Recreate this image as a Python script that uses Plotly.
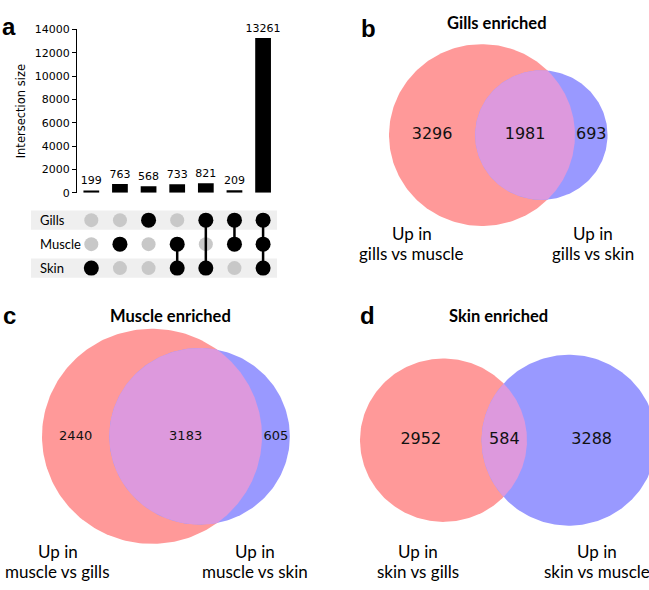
import numpy as np
import plotly.graph_objects as go

W, H = 649, 590

# ---------------- data ----------------
set_names = ["Gills", "Muscle", "Skin"]
upset_sizes = [199, 763, 568, 733, 821, 209, 13261]
upset_members = [
    ["Skin"],
    ["Muscle"],
    ["Gills"],
    ["Muscle", "Skin"],
    ["Gills", "Skin"],
    ["Gills", "Muscle"],
    ["Gills", "Muscle", "Skin"],
]
upset_yticks = [0, 2000, 4000, 6000, 8000, 10000, 12000, 14000]

# Venn counts: (only left set, only right set, both)
gills_counts = [3296, 693, 1981]
muscle_counts = [2440, 605, 3183]
skin_counts = [2952, 3288, 584]

venn_titles = ["Gills enriched", "Muscle enriched", "Skin enriched"]
venn_left_labels = [["Up in", "gills vs muscle"], ["Up in", "muscle vs gills"], ["Up in", "skin vs gills"]]
venn_right_labels = [["Up in", "gills vs skin"], ["Up in", "muscle vs skin"], ["Up in", "skin vs muscle"]]

# ---------------- helpers ----------------
def px(x):
    return x / W


def py(y):
    return 1 - y / H


def lens_area(r1, r2, d):
    if d >= r1 + r2:
        return 0.0
    if d <= abs(r1 - r2):
        return np.pi * min(r1, r2) ** 2
    a1 = r1 ** 2 * np.arccos((d ** 2 + r1 ** 2 - r2 ** 2) / (2 * d * r1))
    a2 = r2 ** 2 * np.arccos((d ** 2 + r2 ** 2 - r1 ** 2) / (2 * d * r2))
    k = 0.5 * np.sqrt((-d + r1 + r2) * (d + r1 - r2) * (d - r1 + r2) * (d + r1 + r2))
    return a1 + a2 - k


def solve_distance(r1, r2, area):
    lo, hi = abs(r1 - r2) + 1e-9, r1 + r2
    for _ in range(200):
        mid = 0.5 * (lo + hi)
        if lens_area(r1, r2, mid) > area:
            lo = mid
        else:
            hi = mid
    return 0.5 * (lo + hi)


fig = go.Figure()

# ---------------- panel a: UpSet ----------------
fig.add_trace(go.Bar(
    x=list(range(len(upset_sizes))), y=upset_sizes,
    marker=dict(color="black", line=dict(width=0)), width=0.55,
    text=[str(v) for v in upset_sizes], textposition="outside", textangle=0,
    constraintext="none",
    textfont=dict(family="DejaVu Sans", size=11, color="black"),
    cliponaxis=False, xaxis="x", yaxis="y", hoverinfo="skip"))

row_of = {"Gills": 2, "Muscle": 1, "Skin": 0}
gx, gy, bx, by, lx, ly = [], [], [], [], [], []
for i, mem in enumerate(upset_members):
    for s in set_names:
        if s in mem:
            bx.append(i); by.append(row_of[s])
        else:
            gx.append(i); gy.append(row_of[s])
    if len(mem) > 1:
        rows = [row_of[s] for s in mem]
        lx += [i, i, None]; ly += [min(rows), max(rows), None]

fig.add_trace(go.Scatter(x=gx, y=gy, mode="markers", xaxis="x2", yaxis="y2",
                         marker=dict(size=14, color="#c8c8c8"), hoverinfo="skip"))
fig.add_trace(go.Scatter(x=lx, y=ly, mode="lines", xaxis="x2", yaxis="y2",
                         line=dict(color="black", width=2.5), hoverinfo="skip"))
fig.add_trace(go.Scatter(x=bx, y=by, mode="markers", xaxis="x2", yaxis="y2",
                         marker=dict(size=15, color="black"), hoverinfo="skip"))

shapes = []
for s in ["Gills", "Skin"]:
    r = row_of[s]
    shapes.append(dict(type="rect", xref="paper", yref="y2", x0=px(31), x1=px(277),
                       y0=r - 0.4, y1=r + 0.4, fillcolor="#efefef",
                       line=dict(width=0), layer="below"))

annotations = []
for s in set_names:
    annotations.append(dict(x=px(38), y=row_of[s], xref="paper", yref="y2", text=s,
                            showarrow=False, xanchor="left", yanchor="middle",
                            font=dict(family="Lato", size=13, color="black")))

# ---------------- panels b, c, d: Venn ----------------
venn_counts = [gills_counts, muscle_counts, skin_counts]
# layout (pixels): centre of the left circle and its radius
venn_layout = [
    dict(cx=482, cy=132, rpx=93, font=16),
    dict(cx=152, cy=440, rpx=110, font=13),
    dict(cx=443.5, cy=444, rpx=83.5, font=16),
]
title_pos = [(497.5, 17.5), (170, 316.5), (498, 316.5)]
left_lab_pos = [(412, 233, 253), (58, 557.5, 578), (418, 557.5, 578)]
right_lab_pos = [(593, 233, 253), (255, 557.5, 578), (597, 557.5, 578)]
letter_pos = [("a", 9, 20.5), ("b", 368, 23.5), ("c", 9, 316.5), ("d", 367.5, 316.5)]

axis_layout = {}
t = np.linspace(0, 2 * np.pi, 240)
for k, (cnt, lay) in enumerate(zip(venn_counts, venn_layout)):
    only_a, only_b, both = cnt
    rA = np.sqrt((only_a + both) / np.pi)
    rB = np.sqrt((only_b + both) / np.pi)
    d = solve_distance(rA, rB, both)
    s = lay["rpx"] / rA
    cx, cy = lay["cx"], lay["cy"]
    n = k + 3
    xa, ya = f"x{n}", f"y{n}"
    axis_layout[f"xaxis{n}"] = dict(domain=[0, 1], range=[-cx / s, (W - cx) / s],
                                    visible=False, anchor=ya, fixedrange=True)
    axis_layout[f"yaxis{n}"] = dict(domain=[0, 1], range=[-(H - cy) / s, cy / s],
                                    visible=False, anchor=xa, fixedrange=True)
    fig.add_trace(go.Scatter(x=rA * np.cos(t), y=rA * np.sin(t), fill="toself",
                             fillcolor="#ff9999", line=dict(width=0), mode="lines",
                             xaxis=xa, yaxis=ya, hoverinfo="skip"))
    fig.add_trace(go.Scatter(x=d + rB * np.cos(t), y=rB * np.sin(t), fill="toself",
                             fillcolor="#9999ff", line=dict(width=0), mode="lines",
                             xaxis=xa, yaxis=ya, hoverinfo="skip"))
    xi = (d ** 2 + rA ** 2 - rB ** 2) / (2 * d)
    yi = np.sqrt(max(rA ** 2 - xi ** 2, 0))
    a1 = np.arctan2(yi, xi)
    a2 = np.arctan2(yi, d - xi)
    t1 = np.linspace(-a1, a1, 150)
    t2 = np.linspace(np.pi - a2, np.pi + a2, 150)
    lxs = np.concatenate([rA * np.cos(t1), d + rB * np.cos(t2)])
    lys = np.concatenate([rA * np.sin(t1), rB * np.sin(t2)])
    fig.add_trace(go.Scatter(x=lxs, y=lys, fill="toself", fillcolor="#dd99dd",
                             line=dict(width=0), mode="lines",
                             xaxis=xa, yaxis=ya, hoverinfo="skip"))
    pos_a = (-rA + (d - rB)) / 2
    pos_ab = ((d - rB) + rA) / 2
    pos_b = (rA + d + rB) / 2
    fig.add_trace(go.Scatter(x=[pos_a, pos_ab, pos_b], y=[0, 0, 0], mode="text",
                             text=[str(only_a), str(both), str(only_b)],
                             textposition="middle center", cliponaxis=False,
                             textfont=dict(family="DejaVu Sans", size=lay["font"], color="#111111"),
                             xaxis=xa, yaxis=ya, hoverinfo="skip"))
    tx, ty = title_pos[k]
    annotations.append(dict(x=px(tx), y=py(ty), xref="paper", yref="paper",
                            text=f"<b>{venn_titles[k]}</b>", showarrow=False,
                            xanchor="center", yanchor="middle",
                            font=dict(family="Lato", size=16.5, color="black")))
    for (lxp, ly1, ly2), lines in [(left_lab_pos[k], venn_left_labels[k]),
                                   (right_lab_pos[k], venn_right_labels[k])]:
        for yy, txt in zip([ly1, ly2], lines):
            annotations.append(dict(x=px(lxp), y=py(yy), xref="paper", yref="paper",
                                    text=txt, showarrow=False, xanchor="center",
                                    yanchor="middle",
                                    font=dict(family="Lato", size=17, color="black")))

for letter, lxp, lyp in letter_pos:
    annotations.append(dict(x=px(lxp), y=py(lyp), xref="paper", yref="paper",
                            text=f"<b>{letter}</b>", showarrow=False,
                            xanchor="center", yanchor="middle",
                            font=dict(family="Liberation Sans", size=24, color="black")))

fig.update_layout(
    width=W, height=H, margin=dict(l=0, r=0, t=0, b=0),
    paper_bgcolor="white", plot_bgcolor="rgba(0,0,0,0)", showlegend=False,
    xaxis=dict(domain=[px(77), px(277.4)], range=[-0.5, 6.5], visible=False,
               anchor="y", fixedrange=True),
    yaxis=dict(domain=[py(191), py(24)], range=[0, 14000], tickvals=upset_yticks,
               ticktext=[str(v) for v in upset_yticks],
               ticks="outside", ticklen=4, tickwidth=1, tickcolor="black",
               showline=True, linecolor="black", linewidth=1, showgrid=False,
               zeroline=False, anchor="x", fixedrange=True,
               tickfont=dict(family="DejaVu Sans", size=11, color="black"),
               title=dict(text="Intersection size", standoff=6,
                          font=dict(family="DejaVu Sans", size=11.5, color="black"))),
    xaxis2=dict(domain=[px(77), px(277.4)], range=[-0.5, 6.5], visible=False,
                anchor="y2", fixedrange=True),
    yaxis2=dict(domain=[py(280.25), py(206.75)], range=[-0.5, 2.5], visible=False,
                anchor="x2", fixedrange=True),
    shapes=shapes, annotations=annotations,
    **axis_layout,
)

fig.write_html("out.html", config={"displayModeBar": False},
               post_script="document.body.style.margin='0px';")
